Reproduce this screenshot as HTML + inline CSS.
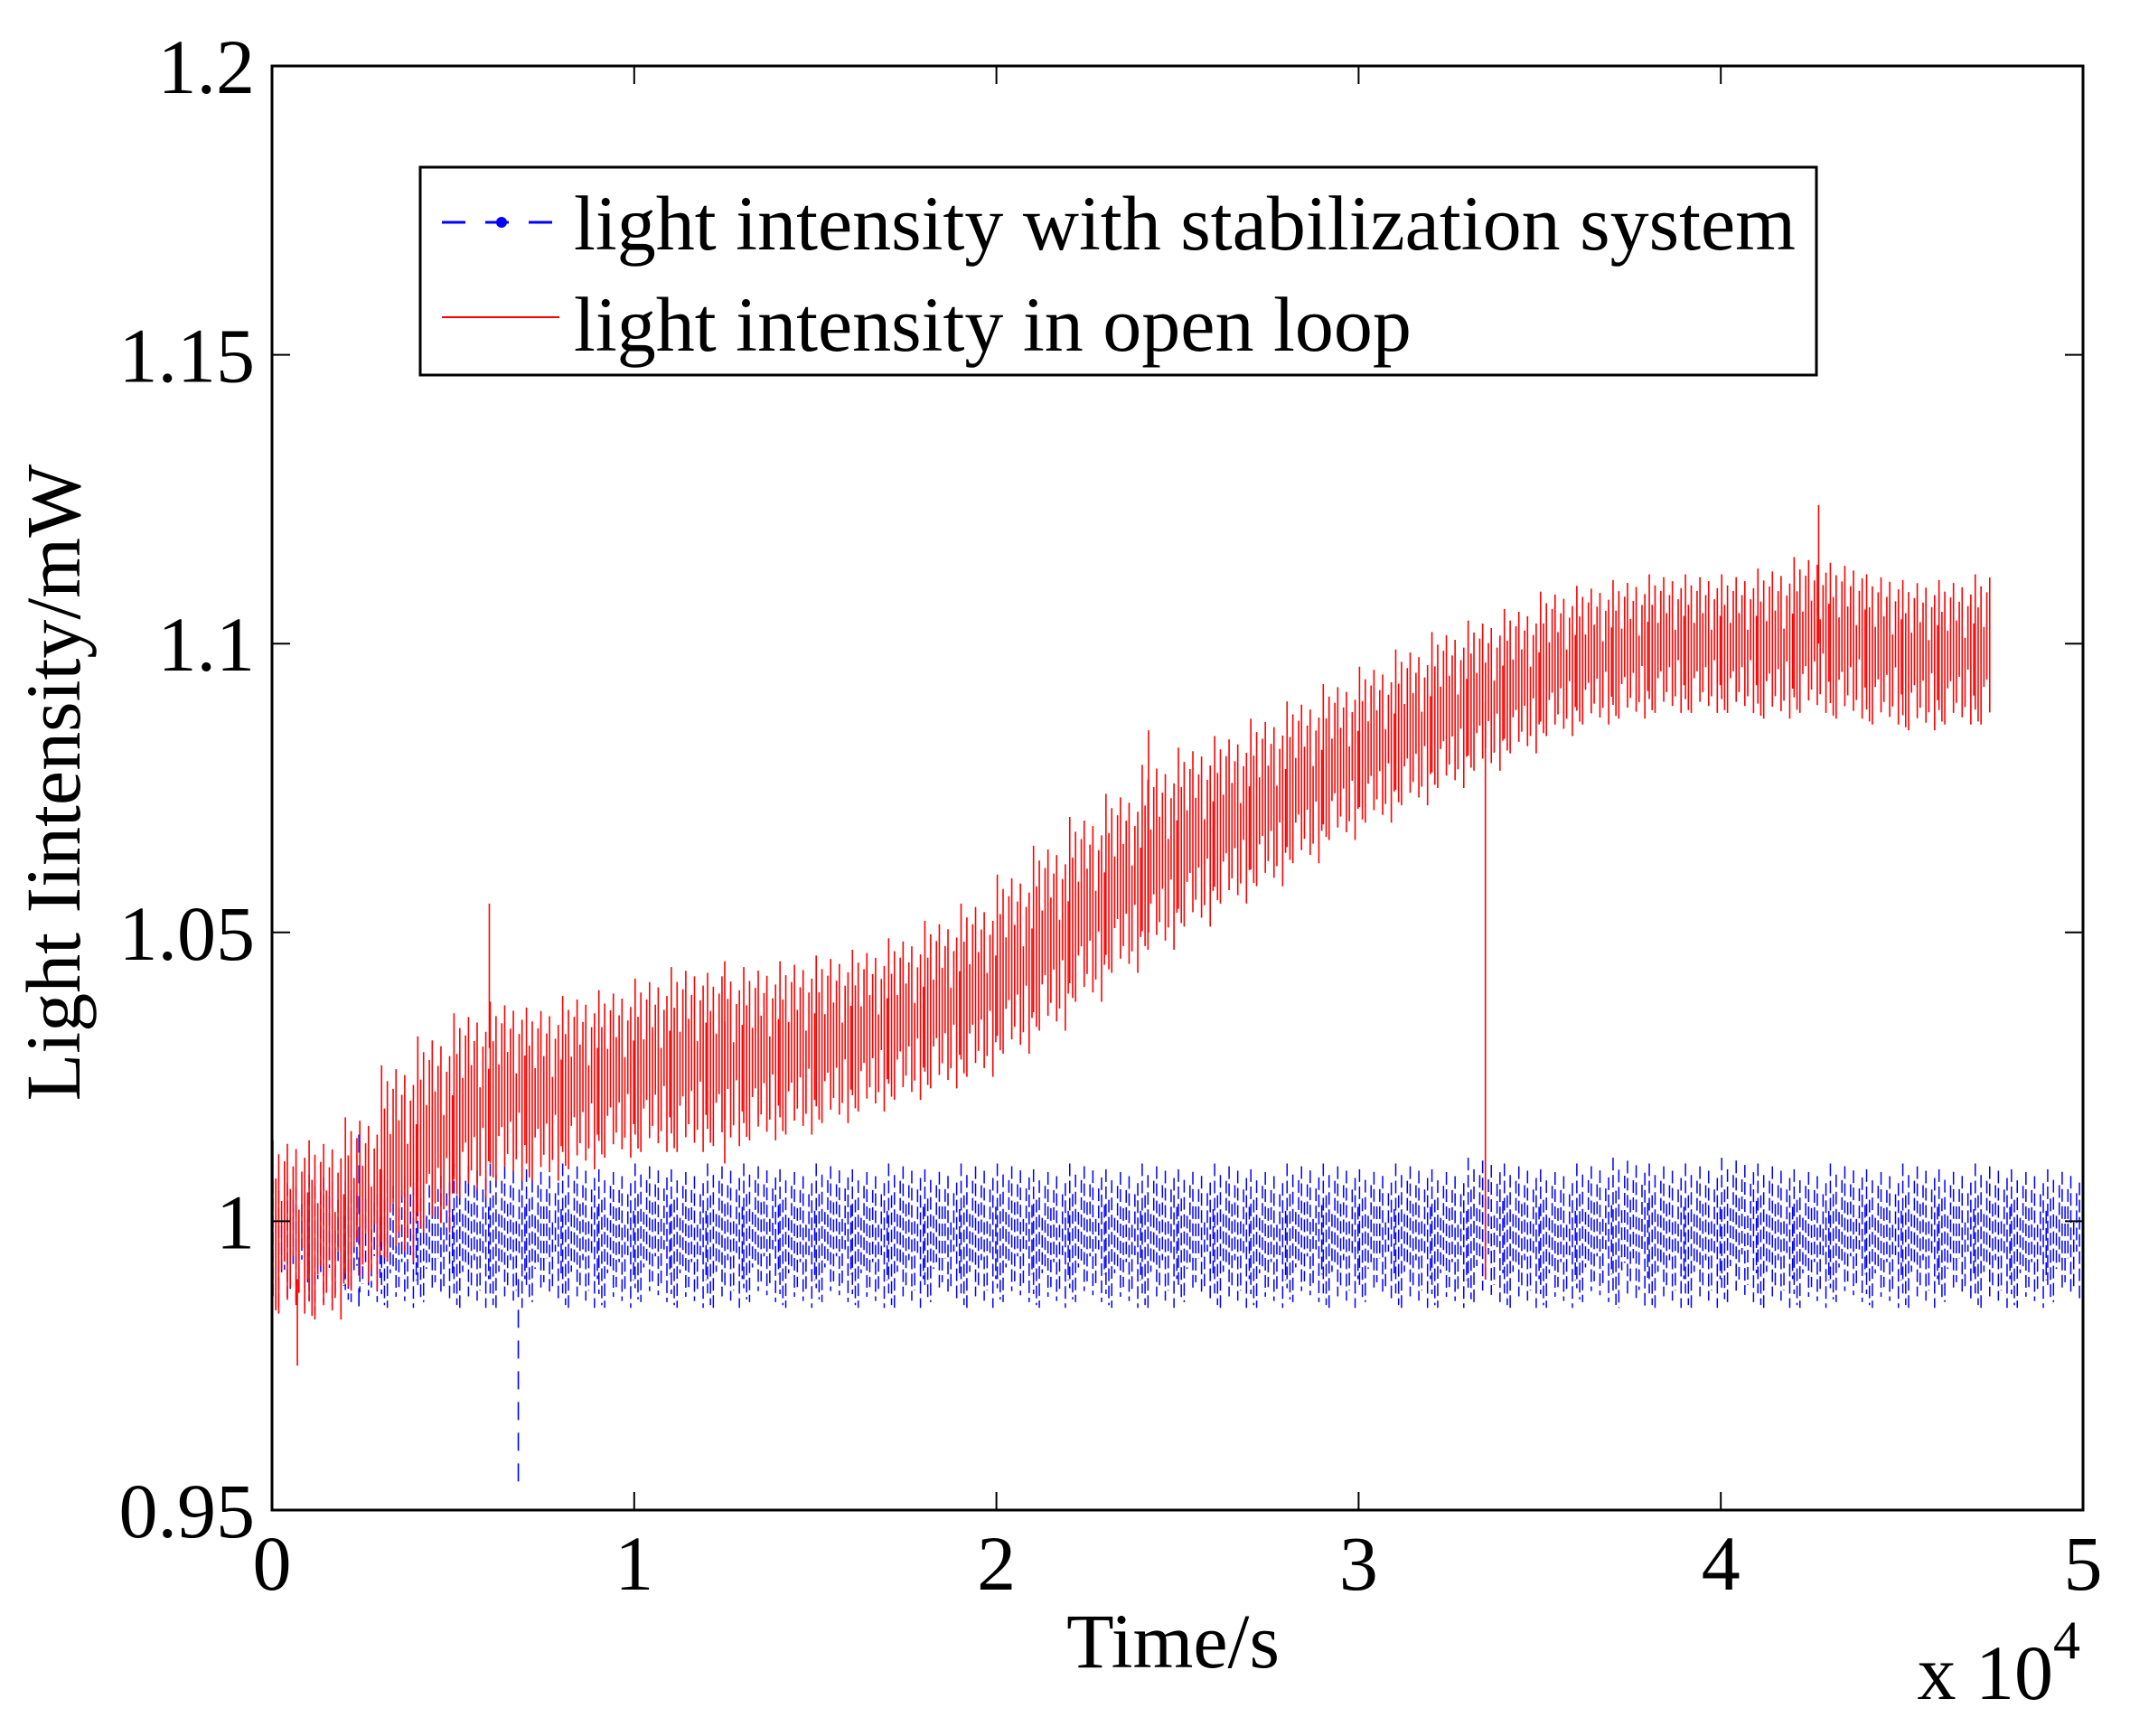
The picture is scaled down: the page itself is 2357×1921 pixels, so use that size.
<!DOCTYPE html>
<html><head><meta charset="utf-8"><style>
html,body{margin:0;padding:0;background:#fff;}
svg{display:block;}
text{font-family:"Liberation Serif",serif;fill:#000;}
</style></head><body>
<svg id="chart" width="2357" height="1921" viewBox="0 0 2357 1921" xmlns="http://www.w3.org/2000/svg">
<rect x="0" y="0" width="2357" height="1921" fill="#fff"/>
<g id="blueG"></g>
<g id="redG"></g>
<g id="axes"></g>
<text x="1298" y="1845" font-size="86" text-anchor="middle">Time/s</text>
<text transform="translate(88,866) rotate(-90)" font-size="86" text-anchor="middle">Light Iintensity/mW</text>
<text x="2302" y="1880" font-size="86" text-anchor="end">x 10<tspan dy="-45" font-size="60">4</tspan></text>
<g>
<rect x="465" y="185" width="1545" height="230" fill="#fff" stroke="#000" stroke-width="3"/>
<line x1="489" y1="246" x2="611" y2="246" stroke="#0000ff" stroke-width="3" stroke-dasharray="26,22"/>
<circle cx="555" cy="246" r="6" fill="#0000ff"/>
<text x="635" y="276" font-size="86">light intensity with stabilization system</text>
<line x1="489" y1="351" x2="619" y2="351" stroke="#ff0000" stroke-width="2"/>
<text x="635" y="388" font-size="86">light intensity in open loop</text>
</g>
</svg>
<script>
// bins of 1000 s
const redLow  = [0.984,0.983,0.988,0.993,0.998,1.004,1.007,1.007,1.009,1.011,1.012,1.012,1.013,1.014,1.015,1.017,1.019,1.021,1.023,1.025,1.029,1.033,1.038,1.043,1.047,1.051,1.055,1.058,1.062,1.066,1.069,1.072,1.075,1.078,1.081,1.084,1.086,1.087,1.088,1.088,1.088,1.087,1.088,1.087,1.086,1.085,1.086,1.086];
const redHigh = [1.014,1.014,1.018,1.027,1.032,1.036,1.038,1.037,1.039,1.040,1.042,1.044,1.043,1.044,1.045,1.046,1.047,1.049,1.052,1.055,1.060,1.065,1.070,1.074,1.079,1.082,1.084,1.087,1.090,1.093,1.096,1.099,1.102,1.104,1.106,1.109,1.110,1.111,1.112,1.112,1.112,1.113,1.115,1.114,1.112,1.111,1.111,1.112];
const redEnd = 47500;
const blueLow  = [0.985,0.984,0.986,0.985,0.986,0.985,0.985,0.986,0.985,0.985,0.986,0.985,0.985,0.986,0.985,0.986,0.985,0.985,0.986,0.985,0.986,0.985,0.986,0.985,0.985,0.986,0.985,0.985,0.986,0.985,0.986,0.985,0.985,0.986,0.985,0.985,0.986,0.985,0.985,0.985,0.986,0.985,0.985,0.986,0.985,0.985,0.986,0.985,0.985,0.986];
const blueHigh = [1.007,1.008,1.007,1.009,1.009,1.010,1.010,1.009,1.010,1.009,1.010,1.009,1.010,1.010,1.009,1.010,1.009,1.010,1.009,1.010,1.010,1.009,1.010,1.009,1.010,1.009,1.010,1.009,1.010,1.010,1.009,1.010,1.009,1.011,1.010,1.009,1.010,1.011,1.010,1.010,1.011,1.010,1.009,1.010,1.009,1.010,1.009,1.010,1.009,1.009];
const spikeTimes = [33500, 6800, 6000, 700, 12500, 24200, 42700, 2400];
const spikeLow   = [0.990, 0.953, 1.030, 0.975, 1.010, 1.050, 1.100, 0.985];
const spikeHigh  = [1.090, 0.990, 1.055, 0.990, 1.045, 1.085, 1.124, 1.015];
const spikeSeries = ['red','blue','red','red','red','red','red','blue'];
const yTicks = [0.95,1.0,1.05,1.1,1.15,1.2];
const yTickLabels = ['0.95','1','1.05','1.1','1.15','1.2'];
const xTicks = [0,10000,20000,30000,40000,50000];
const xTickLabels = ['0','1','2','3','4','5'];
const binSize = 1000;

const L=301,R=2305,T=73,B=1671;
const X=t=>L+(t/50000)*(R-L);
const Y=v=>B-(v-0.95)/0.25*(B-T);
const NS='http://www.w3.org/2000/svg';
function ln(g,x1,y1,x2,y2,c,w,extra){const e=document.createElementNS(NS,'line');
e.setAttribute('x1',x1);e.setAttribute('y1',y1);e.setAttribute('x2',x2);e.setAttribute('y2',y2);
e.setAttribute('stroke',c);e.setAttribute('stroke-width',w);if(extra)e.setAttribute('stroke-dasharray',extra);g.appendChild(e);return e;}

const topFrac=[0,0.22,0.08,0.35,0.12,0.02,0.28,0.15,0.05,0.4,0.18,0.1,0.3];
const botFrac=[0.1,0,0.3,0.15,0.05,0.38,0.2,0.02,0.25,0.08,0.33,0.12,0];
function band(g,low,high,end,color,name,dash,w){
  let k=0;
  for(let i=0;i<low.length;i++){
    const t0=i*binSize, t1=Math.min((i+1)*binSize,end);
    const x0=X(t0), x1=X(t1);
    const yl=Y(low[i]), yh=Y(high[i]), h=yl-yh;
    for(let x=x0+1;x<x1;x+=3.2,k++){
      const a=topFrac[k%topFrac.length], b=botFrac[(k*7)%botFrac.length];
      const e=ln(g,x,yh+h*a,x,yl-h*b,color,w,dash);
      
      
    }
  }
}
const redG=document.getElementById('redG'), blueG=document.getElementById('blueG');
band(blueG,blueLow,blueHigh,50000,'#0000ff','stabilized','14,5',1.5);
band(redG,redLow,redHigh,redEnd,'#ff0000','open-loop',null,1.6);
for(let i=0;i<spikeTimes.length;i++){
  const g=spikeSeries[i]==='red'?redG:blueG;
  const e=ln(g,X(spikeTimes[i]),Y(spikeHigh[i]),X(spikeTimes[i]),Y(spikeLow[i]),spikeSeries[i]==='red'?'#ff0000':'#0000ff',1.6,spikeSeries[i]==='blue'?'20,14':null);
  
  
}
// axes
const ax=document.getElementById('axes');
const box=document.createElementNS(NS,'rect');
box.setAttribute('x',L);box.setAttribute('y',T);box.setAttribute('width',R-L);box.setAttribute('height',B-T);
box.setAttribute('fill','none');box.setAttribute('stroke','#000');box.setAttribute('stroke-width','3');


ax.appendChild(box);
yTicks.forEach((v,i)=>{
  const y=Y(v);
  const t1=ln(ax,L,y,L+20,y,'#000',2);
  
  
  const t2=ln(ax,R-20,y,R,y,'#000',2);
  
  
  const tx=document.createElementNS(NS,'text');
  tx.setAttribute('x',282);tx.setAttribute('y',y+30);tx.setAttribute('font-size','86');tx.setAttribute('text-anchor','end');
  tx.textContent=yTickLabels[i];
  
  
  ax.appendChild(tx);
});
xTicks.forEach((t,i)=>{
  const x=X(t);
  const t1=ln(ax,x,B,x,B-20,'#000',2);
  
  
  const t2=ln(ax,x,T,x,T+20,'#000',2);
  
  
  const tx=document.createElementNS(NS,'text');
  tx.setAttribute('x',x);tx.setAttribute('y',1759);tx.setAttribute('font-size','86');tx.setAttribute('text-anchor','middle');
  tx.textContent=xTickLabels[i];
  
  
  ax.appendChild(tx);
});
</script>
</body></html>
